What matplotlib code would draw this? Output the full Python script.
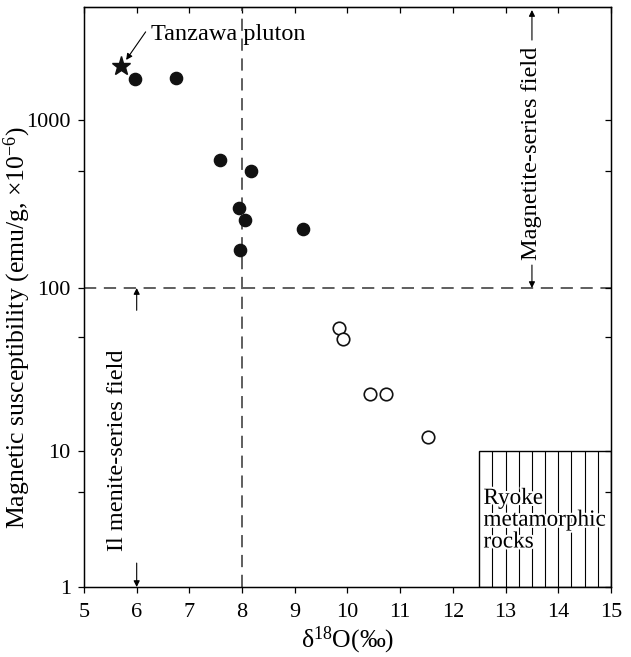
import numpy as np
import matplotlib
matplotlib.use("Agg")
import matplotlib.pyplot as plt
from matplotlib.ticker import FixedLocator, NullFormatter
from matplotlib.patches import Rectangle
import matplotlib.patheffects as pe

plt.rcParams['font.family'] = ['Liberation Serif', 'DejaVu Serif']
plt.rcParams['mathtext.fontset'] = 'custom'
plt.rcParams['mathtext.rm'] = 'Liberation Serif'
plt.rcParams['mathtext.it'] = 'Liberation Serif:italic'

# Granitoids (magnetite series, filled) and Ryoke-type (ilmenite series, open)
d18o_filled = [5.97, 6.75, 7.58, 8.17, 7.94, 8.05, 9.16, 7.96]
sus_filled = [1750, 1780, 578, 497, 299, 254, 224, 168]
d18o_open = [9.84, 9.91, 10.43, 10.74, 11.53]
sus_open = [56.6, 48.9, 22.5, 22.5, 12.2]
tanzawa_x = [5.70]
tanzawa_y = [2100]

ryoke_x = (12.5, 15.0)
ryoke_y = (1, 10)
hatch_x = [12.75, 13.0, 13.25, 13.5, 13.75, 14.0, 14.25, 14.5, 14.75]

xticks = [5, 6, 7, 8, 9, 10, 11, 12, 13, 14, 15]
yticks = [1, 10, 100, 1000]
yminor = [5, 50, 500]

# the printed log axis is not quite uniform; follow it decade by decade
knot_log = [-2, 0, 1, 2, 3, 3.673, 5]
knot_px = [-272, 0, 136, 299, 467, 580, 803]


def fwd(y):
    y = np.clip(np.asarray(y, dtype=float), 1e-6, None)
    return np.interp(np.log10(y), knot_log, knot_px)


def inv(p):
    return 10 ** np.interp(np.asarray(p, dtype=float), knot_px, knot_log)


fig = plt.figure(figsize=(6.31, 6.57), dpi=100)
ax = fig.add_axes([0.1331, 0.1065, 0.8352, 0.8828])
ax.set_yscale('function', functions=(fwd, inv))
ax.set_xlim(5, 15)
ax.set_ylim(1, 10 ** 3.673)

ax.axvline(8, color='#333333', lw=1.1, dashes=(8, 5), zorder=1)
ax.axhline(100, color='#333333', lw=1.1, dashes=(8, 5), zorder=1)

ax.add_patch(Rectangle((ryoke_x[0], ryoke_y[0]), ryoke_x[1] - ryoke_x[0],
                       ryoke_y[1] - ryoke_y[0], fill=False, ec='black', lw=1.0, zorder=2))
ax.vlines(hatch_x, ryoke_y[0], ryoke_y[1], colors='black', lw=0.8, zorder=2)
ax.text(12.58, 3.1, 'Ryoke\nmetamorphic\nrocks', fontsize=16.7, ha='left', va='center',
        linespacing=1.05, zorder=3,
        path_effects=[pe.withStroke(linewidth=3, foreground='white')])

ax.plot(d18o_filled, sus_filled, 'o', color='#111111', ms=8.8, zorder=4)
ax.plot(d18o_open, sus_open, 'o', mfc='white', mec='#111111', mew=1.2, ms=9, zorder=4)
ax.plot(tanzawa_x, tanzawa_y, '*', color='#111111', ms=14, zorder=4)

arrow = dict(arrowstyle='-|>', color='black', lw=0.8, mutation_scale=9,
             shrinkA=0, shrinkB=0)
ax.annotate('', xy=(5.80, 2280), xytext=(6.17, 3350), arrowprops=arrow)
ax.text(6.28, 3250, 'Tanzawa pluton', fontsize=17.5, ha='left', va='center')

ax.text(13.5, 637, 'Magnetite-series field', fontsize=17.5, rotation=90,
        ha='center', va='center')
ax.annotate('', xy=(13.5, 4520), xytext=(13.5, 2995), arrowprops=arrow)
ax.annotate('', xy=(13.5, 100), xytext=(13.5, 137), arrowprops=arrow)

ax.text(5.63, 10.1, 'Il menite-series field', fontsize=17.5, rotation=90,
        ha='center', va='center')
ax.annotate('', xy=(6, 100), xytext=(6, 73), arrowprops=arrow)
ax.annotate('', xy=(6, 1), xytext=(6, 1.5), arrowprops=arrow)

ax.xaxis.set_major_locator(FixedLocator(xticks))
ax.set_xticklabels([str(t) for t in xticks])
ax.yaxis.set_major_locator(FixedLocator(yticks))
ax.yaxis.set_minor_locator(FixedLocator(yminor))
ax.yaxis.set_minor_formatter(NullFormatter())
ax.set_yticklabels([str(t) for t in yticks])

ax.tick_params(which='both', direction='out', length=4.5, width=0.9, labelsize=16,
               top=False, right=False)
ax.tick_params(axis='x', pad=7)
ax.tick_params(axis='y', pad=5)
for sp in ax.spines.values():
    sp.set_linewidth(1.0)

# inward ticks on top and right
ax2 = ax.secondary_xaxis('top')
ax2.xaxis.set_major_locator(FixedLocator(xticks))
ax2.tick_params(direction='in', length=4.5, width=0.9, labeltop=False)
ax3 = ax.twinx()
ax3.set_yscale('function', functions=(fwd, inv))
ax3.set_ylim(ax.get_ylim())
ax3.yaxis.set_major_locator(FixedLocator(yticks))
ax3.yaxis.set_minor_locator(FixedLocator(yminor))
ax3.tick_params(which='both', direction='in', length=4.5, width=0.9,
                labelright=False)

ax.set_xlabel(r'δ$^{18}$O(‰)', fontsize=18.5, labelpad=2)
ax.set_ylabel(r'Magnetic susceptibility (emu/g, $\times$10$^{-6}$)', fontsize=18.5)
ax.yaxis.set_label_coords(-0.097, 0.448)

fig.savefig('out.png', dpi=100)
